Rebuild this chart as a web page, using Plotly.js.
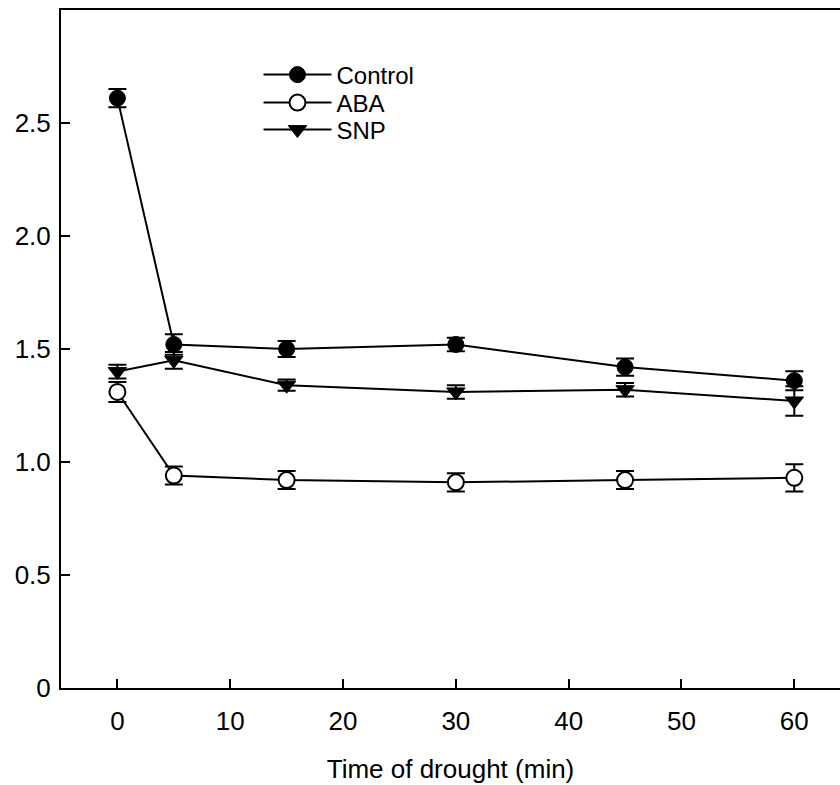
<!DOCTYPE html>
<html>
<head>
<meta charset="utf-8">
<script src="https://cdn.plot.ly/plotly-3.0.1.min.js"></script>
<style>html,body{margin:0;padding:0;background:#fff;overflow:hidden}</style>
</head>
<body>
<div id="chart" style="width:840px;height:785px"></div>
<script>
const time = [0, 5, 15, 30, 45, 60];
const controlVals = [2.61, 1.52, 1.50, 1.52, 1.42, 1.36];
const controlErr  = [0.04, 0.045, 0.035, 0.03, 0.038, 0.042];
const abaVals = [1.31, 0.94, 0.92, 0.91, 0.92, 0.93];
const abaErr  = [0.044, 0.04, 0.04, 0.04, 0.04, 0.06];
const snpVals = [1.40, 1.45, 1.34, 1.31, 1.32, 1.27];
const snpErr  = [0.03, 0.037, 0.025, 0.03, 0.03, 0.065];
const xTicks = [0, 10, 20, 30, 40, 50, 60];
const yTicks = [0, 0.5, 1.0, 1.5, 2.0, 2.5];
const yTickText = ['0', '0.5', '1.0', '1.5', '2.0', '2.5'];

const FONT = 'Liberation Sans, Arial, Helvetica, sans-serif';
const FS = 26;
const LFS = 24;
function errOpt(arr){
  return {type:'data', array:arr, visible:true, color:'#000', thickness:2, width:9};
}
const traces = [
  {x: time, y: controlVals, name: 'Control', type:'scatter', mode:'lines+markers', legend:'legend',
   line:{color:'#000', width:2},
   marker:{symbol:'circle', size:16, color:'#000', line:{color:'#000', width:1}},
   error_y: errOpt(controlErr)},
  {x: time, y: abaVals, name: 'ABA', type:'scatter', mode:'lines+markers', legend:'legend2',
   line:{color:'#000', width:2},
   marker:{symbol:'circle', size:16, color:'#fff', line:{color:'#000', width:2}},
   error_y: errOpt(abaErr)},
  {x: time, y: snpVals, name: 'SNP', type:'scatter', mode:'lines+markers', legend:'legend3',
   line:{color:'#000', width:2},
   marker:{symbol:'triangle-down', size:16, color:'#000', line:{color:'#000', width:1}},
   error_y: errOpt(snpErr)}
];
function leg(y){
  return {x: 0.2535, y: y, xanchor:'left', yanchor:'middle', bgcolor:'rgba(0,0,0,0)',
          font:{family: FONT, size:LFS, color:'#000'}, itemwidth:68, borderwidth:0};
}
const layout = {
  width: 840, height: 785,
  margin: {l:61, r:0, t:10, b:97},
  paper_bgcolor:'#fff', plot_bgcolor:'#fff',
  font: {family: FONT, size: FS, color:'#000'},
  showlegend: true,
  legend: leg(0.9041),
  legend2: leg(0.8628),
  legend3: leg(0.8230),
  xaxis: {
    range: [-5, 64.05], tickmode:'array', tickvals: xTicks,
    ticks:'inside', ticklen:9, tickwidth:2, tickcolor:'#000',
    showline:true, linecolor:'#000', linewidth:2, mirror:true,
    showgrid:false, zeroline:false, ticklabelstandoff: 9,
    title:{text:'Time of drought (min)', font:{family: FONT, size:FS, color:'#000'}, standoff: 25}
  },
  yaxis: {
    range: [0, 3], tickmode:'array', tickvals: yTicks, ticktext: yTickText,
    ticks:'inside', ticklen:9, tickwidth:2, tickcolor:'#000',
    showline:true, linecolor:'#000', linewidth:2,
    showgrid:false, zeroline:false, ticklabelstandoff: 3
  }
};
Plotly.newPlot('chart', traces, layout, {displayModeBar:false, staticPlot:true});
</script>
</body>
</html>
